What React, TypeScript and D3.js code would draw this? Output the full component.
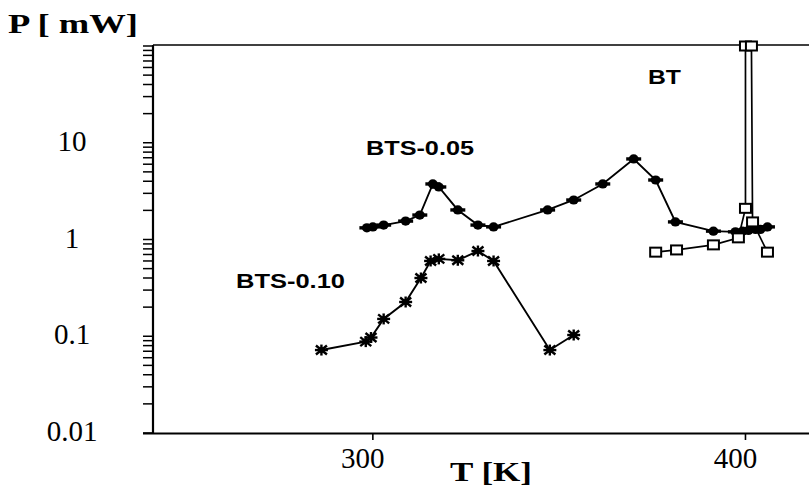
import React from "react";
import * as d3 from "d3";

// Temperature (K) and output power (mW) for the three samples
const btsTemp05 = [298.4, 300, 302.9, 308.8, 312.6, 316.1, 317.7, 322.8, 328.2, 332.4, 346.9, 353.9, 361.7, 370, 375.9, 381.2, 391.4, 397.3, 399.2, 400.8, 402.7, 404, 405.9];
const btsPower05 = [1.32, 1.35, 1.41, 1.55, 1.79, 3.75, 3.49, 2.02, 1.41, 1.35, 2.02, 2.56, 3.75, 6.8, 4.12, 1.52, 1.22, 1.2, 1.22, 1.24, 1.27, 1.27, 1.35];

const btsTemp10 = [286.2, 298.1, 299.5, 302.9, 308.8, 312.9, 315.5, 317.7, 322.8, 328.2, 332.4, 347.5, 353.9];
const btsPower10 = [0.072, 0.088, 0.097, 0.151, 0.226, 0.4, 0.6, 0.63, 0.61, 0.76, 0.6, 0.072, 0.103];

const btTemp = [375.9, 381.5, 391.4, 398.1, 400.0, 400.0, 401.6, 401.9, 405.9];
const btPower = [0.74, 0.78, 0.88, 1.04, 2.1, 100, 100, 1.52, 0.74];

const xTickValues = [300, 400];
const yTickValues = [10, 1, 0.1, 0.01];
const yTickLabels = ["10", "1", "0.1", "0.01"];

const W = 809;
const H = 489;

const x = d3.scaleLinear().domain([241, 420]).range([153, 820]);
const y = d3.scaleLog().domain([0.01, 100]).range([433, 46]);

const zip = (ts: number[], ps: number[]) => ts.map((t, i) => [t, ps[i]] as [number, number]);

const line = d3
  .line<[number, number]>()
  .x((d) => x(d[0]))
  .y((d) => y(d[1]));

const minorTicks: number[] = [];
for (let e = -2; e <= 1; e++) {
  for (let k = 1; k <= 9; k++) minorTicks.push(k * Math.pow(10, e));
}
minorTicks.push(100);

const serif = "'Liberation Serif', 'Times New Roman', serif";
const sans = "'Liberation Sans', Arial, sans-serif";

function Dot({ t, p }: { t: number; p: number }) {
  const cx = x(t);
  const cy = y(p);
  return (
    <g>
      <line x1={cx - 7.5} x2={cx + 7.5} y1={cy} y2={cy} stroke="#000" strokeWidth={3.4} />
      <ellipse cx={cx} cy={cy} rx={5} ry={4.6} fill="#000" />
    </g>
  );
}

function Star({ t, p }: { t: number; p: number }) {
  const cx = x(t);
  const cy = y(p);
  const a = 6.5;
  const b = 5.5;
  return (
    <g stroke="#000" strokeWidth={2.4}>
      <line x1={cx - a} x2={cx + a} y1={cy} y2={cy} />
      <line x1={cx} x2={cx} y1={cy - b} y2={cy + b} />
      <line x1={cx - a + 1} x2={cx + a - 1} y1={cy - b + 1} y2={cy + b - 1} />
      <line x1={cx - a + 1} x2={cx + a - 1} y1={cy + b - 1} y2={cy - b + 1} />
      <ellipse cx={cx} cy={cy} rx={3.5} ry={3} fill="#000" stroke="none" />
    </g>
  );
}

function Square({ t, p }: { t: number; p: number }) {
  const cx = x(t);
  const cy = y(p);
  return <rect x={cx - 5.5} y={cy - 4.5} width={11} height={9} fill="#fff" stroke="#000" strokeWidth={2} />;
}

export default function App() {
  const d05 = zip(btsTemp05, btsPower05);
  const d10 = zip(btsTemp10, btsPower10);
  const dBT = zip(btTemp, btPower);

  return (
    <svg
      width={W}
      height={H}
      style={{ position: "absolute", left: 0, top: 0, background: "#fff" }}
    >
      <rect width={W} height={H} fill="#fff" />

      {/* frame */}
      <line x1={153} x2={W} y1={45} y2={45} stroke="#000" strokeWidth={1.7} />
      <line x1={153} x2={153} y1={45} y2={434} stroke="#000" strokeWidth={2.2} />
      <line x1={143} x2={W} y1={433.5} y2={433.5} stroke="#000" strokeWidth={1.9} />

      {/* y ticks */}
      {minorTicks.map((v, i) => (
        <line key={i} x1={143} x2={153} y1={y(v)} y2={y(v)} stroke="#000" strokeWidth={1.5} />
      ))}
      {yTickValues.map((v, i) => (
        <text
          key={i}
          x={72}
          y={y(v) + 8}
          textAnchor="middle"
          fontFamily={serif}
          fontSize={29}
          fill="#000"
        >
          {yTickLabels[i]}
        </text>
      ))}

      {/* x ticks */}
      {xTickValues.map((v, i) => (
        <g key={i}>
          <line x1={x(v)} x2={x(v)} y1={433} y2={440} stroke="#000" strokeWidth={1.6} />
          <text
            x={x(v) - 10}
            y={468}
            textAnchor="middle"
            fontFamily={serif}
            fontSize={29}
            fill="#000"
          >
            {String(v)}
          </text>
        </g>
      ))}

      {/* axis titles */}
      <text
        x={8}
        y={33}
        fontFamily={serif}
        fontWeight="bold"
        fontSize={28}
        textLength={130}
        lengthAdjust="spacingAndGlyphs"
        fill="#000"
      >
        P [ mW]
      </text>
      <text
        x={450}
        y={481}
        fontFamily={serif}
        fontWeight="bold"
        fontSize={28}
        textLength={82}
        lengthAdjust="spacingAndGlyphs"
        fill="#000"
      >
        T [K]
      </text>

      {/* series lines */}
      <path d={line(d05) || ""} fill="none" stroke="#000" strokeWidth={1.9} />
      <path d={line(d10) || ""} fill="none" stroke="#000" strokeWidth={1.9} />
      <path d={line(dBT) || ""} fill="none" stroke="#000" strokeWidth={1.7} />

      {/* markers */}
      {d05.map((d, i) => (
        <Dot key={i} t={d[0]} p={d[1]} />
      ))}
      {d10.map((d, i) => (
        <Star key={i} t={d[0]} p={d[1]} />
      ))}
      {dBT.map((d, i) => (
        <Square key={i} t={d[0]} p={d[1]} />
      ))}

      {/* series labels */}
      <text x={366} y={155} fontFamily={sans} fontWeight="bold" fontSize={21} textLength={108} lengthAdjust="spacingAndGlyphs" fill="#000">
        BTS-0.05
      </text>
      <text x={236} y={288} fontFamily={sans} fontWeight="bold" fontSize={21} textLength={109} lengthAdjust="spacingAndGlyphs" fill="#000">
        BTS-0.10
      </text>
      <text x={648} y={84} fontFamily={sans} fontWeight="bold" fontSize={21} textLength={33} lengthAdjust="spacingAndGlyphs" fill="#000">
        BT
      </text>
    </svg>
  );
}
